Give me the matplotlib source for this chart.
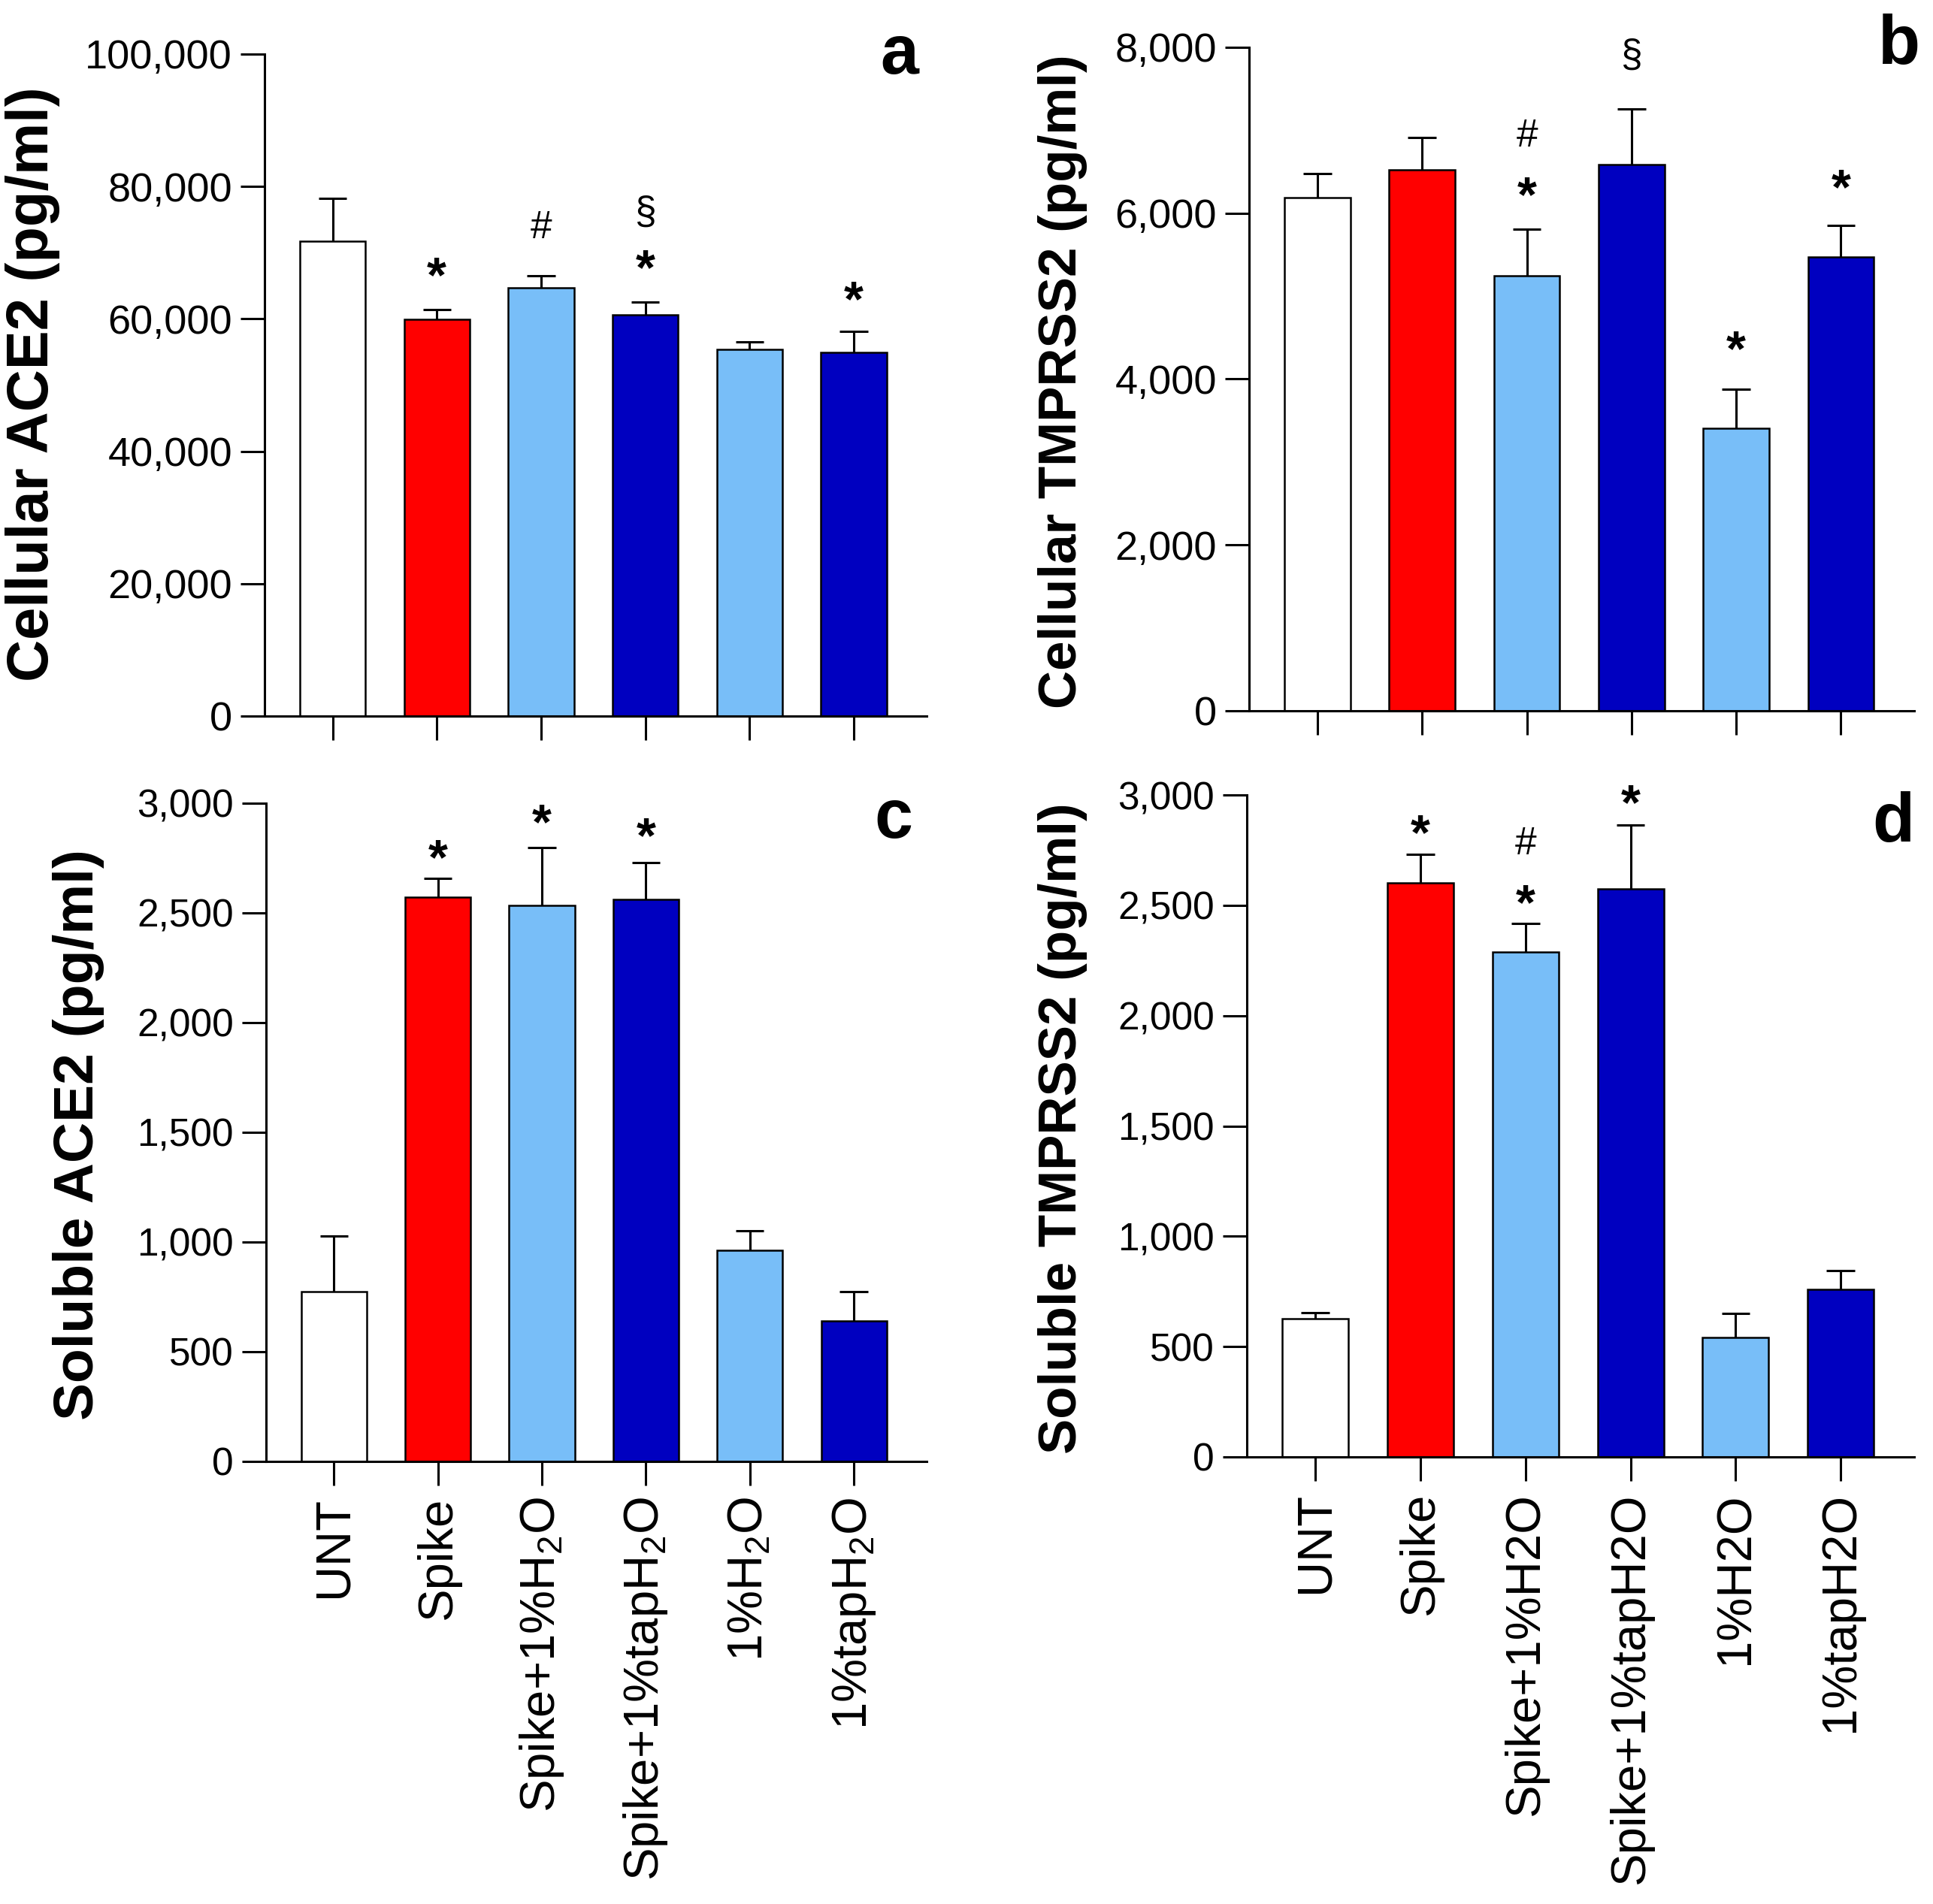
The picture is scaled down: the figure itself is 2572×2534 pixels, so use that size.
import matplotlib
matplotlib.use("Agg")
import matplotlib.pyplot as plt
from matplotlib import font_manager as fm
import numpy as np

# ---------------- data ----------------
groups_plain = ["UNT", "Spike", "Spike+1%H2O", "Spike+1%tapH2O", "1%H2O", "1%tapH2O"]
groups_sub = ["UNT", "Spike", r"Spike+1%H$_2$O", r"Spike+1%tapH$_2$O", r"1%H$_2$O", r"1%tapH$_2$O"]
bar_colors = ["#FFFFFF", "#FF0000", "#78BEF8", "#0000C0", "#78BEF8", "#0000C0"]

cell_ace2_mean = [71700, 59900, 64700, 60600, 55400, 54900]
cell_ace2_top = [78200, 61400, 66500, 62500, 56500, 58100]

cell_tmprss2_mean = [6185, 6525, 5245, 6585, 3410, 5470]
cell_tmprss2_top = [6480, 6915, 5810, 7255, 3875, 5855]

sol_ace2_mean = [775, 2573, 2534, 2562, 961, 640]
sol_ace2_top = [1028, 2657, 2798, 2730, 1050, 775]

sol_tmprss2_mean = [627, 2602, 2289, 2574, 543, 761]
sol_tmprss2_top = [655, 2731, 2418, 2865, 649, 845]

# significance marks: (group index, symbol, y-position of glyph centre)
marks_a = [(1, "*", 67800), (2, "#", 73700), (3, "§", 76400), (3, "*", 68900), (5, "*", 64100)]
marks_b = [(2, "#", 6930), (2, "*", 6320), (3, "§", 7930), (4, "*", 4456), (5, "*", 6408)]
marks_c = [(1, "*", 2787), (2, "*", 2949), (3, "*", 2888)]
marks_d = [(1, "*", 2865), (2, "#", 2776), (2, "*", 2546), (3, "*", 3000)]

ticks_a = [0, 20000, 40000, 60000, 80000, 100000]
ticks_b = [0, 2000, 4000, 6000, 8000]
ticks_cd = [0, 500, 1000, 1500, 2000, 2500, 3000]

ylabels = ["Cellular ACE2 (pg/ml)", "Cellular TMPRSS2 (pg/ml)",
           "Soluble ACE2 (pg/ml)", "Soluble TMPRSS2 (pg/ml)"]
panel_letters = ["a", "b", "c", "d"]

# ---------------- fonts ----------------
def has_font(name):
    try:
        fm.findfont(fm.FontProperties(family=name), fallback_to_default=False)
        return True
    except Exception:
        return False

SANS = "Liberation Sans" if has_font("Liberation Sans") else "DejaVu Sans"
NARROW = "Liberation Sans Narrow" if has_font("Liberation Sans Narrow") else SANS
narrow_size = 44 if NARROW != SANS else 39

plt.rcParams["font.family"] = [SANS, "DejaVu Sans"]
plt.rcParams["mathtext.fontset"] = "custom"
plt.rcParams["mathtext.rm"] = SANS
plt.rcParams["mathtext.it"] = SANS
plt.rcParams["mathtext.bf"] = SANS + ":bold"

W, H = 2572, 2534
fig = plt.figure(figsize=(W / 100, H / 100), dpi=100)

def px_axes(left, right, top, bottom):
    return fig.add_axes([left / W, 1 - bottom / H, (right - left) / W, (bottom - top) / H])

axes = [
    px_axes(352, 1233, 72, 953),
    px_axes(1662, 2547, 63, 946),
    px_axes(354, 1233, 1069, 1945),
    px_axes(1659, 2547, 1058, 1939),
]

means = [cell_ace2_mean, cell_tmprss2_mean, sol_ace2_mean, sol_tmprss2_mean]
tops = [cell_ace2_top, cell_tmprss2_top, sol_ace2_top, sol_tmprss2_top]
marks = [marks_a, marks_b, marks_c, marks_d]
yticks = [ticks_a, ticks_b, ticks_cd, ticks_cd]
ymax = [100000, 8000, 3000, 3000]
xlabels = [None, None, groups_sub, groups_plain]
tick_fonts = [(NARROW, narrow_size), (NARROW, narrow_size), (SANS, 37), (SANS, 37)]

x = np.arange(len(groups_plain))
capw = 0.135

for i, ax in enumerate(axes):
    m = np.array(means[i], dtype=float)
    t = np.array(tops[i], dtype=float)
    ax.bar(x, m, width=0.63, color=bar_colors, edgecolor="black", linewidth=1.8, zorder=2)
    ax.vlines(x, m, t, color="black", linewidth=2.2, zorder=3)
    ax.hlines(t, x - capw, x + capw, color="black", linewidth=2.2, zorder=3)

    ax.set_xlim(-0.653, 5.70)
    ax.set_ylim(0, ymax[i])
    ax.set_yticks(yticks[i])
    fam, fs = tick_fonts[i]
    ax.set_yticklabels([f"{v:,}" for v in yticks[i]], fontfamily=fam, fontsize=fs)
    ax.set_xticks(x)
    if xlabels[i] is None:
        ax.set_xticklabels([])
    else:
        ax.set_xticklabels(xlabels[i], rotation=90, fontsize=47, fontfamily=SANS)

    for side in ["top", "right"]:
        ax.spines[side].set_visible(False)
    for side in ["left", "bottom"]:
        ax.spines[side].set_linewidth(2.2)
    ax.tick_params(axis="both", direction="out", length=23, width=2.2, color="black")
    ax.tick_params(axis="y", pad=8)
    ax.tick_params(axis="x", pad=11)

    for gi, sym, yv in marks[i]:
        if sym == "*":
            fsz, dy, fw = 48, -11, "bold"
        elif sym == "#":
            fsz, dy, fw = 37, 0, "normal"
        else:
            fsz, dy, fw = 37, -3, "normal"
        ax.annotate(sym, xy=(gi, yv), xytext=(0, dy), textcoords="offset points",
                    ha="center", va="center", fontsize=fsz, fontfamily=SANS,
                    fontweight=fw, color="black", annotation_clip=False, zorder=4)

# y labels (bold) placed in figure pixels
ylab_pos = [(44, 511, 56), (1414, 508, 51), (105, 1510, 54), (1414, 1502, 51)]
for lab, (px, py, fs) in zip(ylabels, ylab_pos):
    fig.text(px / W, 1 - py / H, lab, rotation=90, ha="center", va="center",
             fontsize=fs, fontweight="bold", fontfamily=SANS)

# panel letters
letter_pos = [(1222, 98), (2555, 85), (1214, 1115), (2547, 1120)]
for let, (px, py) in zip(panel_letters, letter_pos):
    fig.text(px / W, 1 - py / H, let, ha="right", va="baseline",
             fontsize=66, fontweight="bold", fontfamily=SANS)

fig.savefig("out.png", dpi=100, facecolor="white")
